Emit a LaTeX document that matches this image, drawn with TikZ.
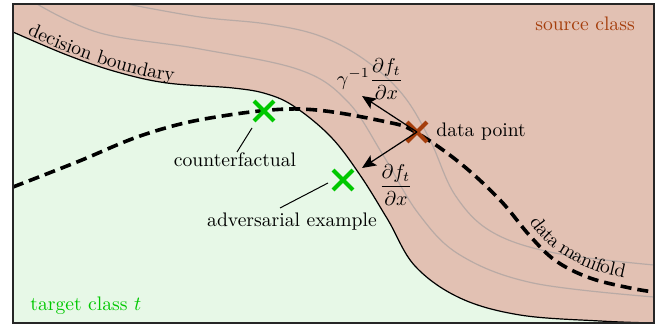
\documentclass[tikz,border=0pt]{standalone}
\usetikzlibrary{arrows.meta,decorations.text}
\definecolor{srcfill}{RGB}{226,193,179}
\definecolor{tgtfill}{RGB}{231,248,231}
\definecolor{srccol}{RGB}{165,62,12}
\definecolor{tgtcol}{RGB}{0,200,0}
\definecolor{grayline}{RGB}{185,170,165}
\newcommand{\lblfont}{\fontsize{9.8}{11.5}\selectfont}
\begin{document}
\begin{tikzpicture}[x=0.5pt,y=0.5pt,
  xmk/.style={inner sep=0pt, minimum size=9.5pt, draw=none},
  xline/.style={line width=2.1pt},
  arr/.style={line width=0.6pt, -{Stealth[length=7pt,width=6pt,inset=1.5pt]}},
  leader/.style={line width=0.5pt},
  graycurve/.style={grayline, line width=0.6pt},
  manifold/.style={line width=1.8pt, dash pattern=on 5.5pt off 3pt},
  lbl/.style={inner sep=0pt, font=\lblfont}]
\useasboundingbox (0,0) rectangle (662,-325);
% regions
\fill[tgtfill] (13,-4) rectangle (654,-323);
\fill[srcfill] plot[smooth, tension=0.6] coordinates {(13,-32) (67,-55) (117,-72) (167,-83) (233,-88) (267,-94) (295,-107) (331,-137) (360,-175) (388,-220) (415,-266) (460,-298) (520,-315) (600,-321) (654,-323)} -- (654,-4) -- (13,-4) -- cycle;
% gray level curves
\draw[graycurve] plot[smooth, tension=0.6] coordinates {(37,-4) (100,-33) (200,-49) (300,-70) (348,-102) (383,-155) (418,-213) (460,-255) (533,-283) (654,-297)};
\draw[graycurve] plot[smooth, tension=0.6] coordinates {(127,-4) (200,-17) (267,-24) (320,-36) (365,-60) (403,-95) (430,-140) (455,-195) (492,-232) (555,-253) (654,-265)};
% decision boundary
\draw[line width=0.6pt] plot[smooth, tension=0.6] coordinates {(13,-32) (67,-55) (117,-72) (167,-83) (233,-88) (267,-94) (295,-107) (331,-137) (360,-175) (388,-220) (415,-266) (460,-298) (520,-315) (600,-321) (654,-323)};
\path[decorate, decoration={text along path, text={|\lblfont|decision boundary}, raise=1.5pt, text align={left indent=7pt}}] plot[smooth, tension=0.6] coordinates {(13,-32) (67,-55) (117,-72) (167,-83) (233,-88) (267,-94)};
% data manifold
\draw[manifold] plot[smooth, tension=0.6] coordinates {(13,-187) (77,-162) (143,-135) (210,-118) (300,-109) (387,-122) (417,-133) (460,-163) (500,-200) (530,-236) (556,-261) (590,-278) (630,-288) (654,-292)};
\path[decorate, decoration={text along path, text={|\lblfont|data manifold}, raise=4.5pt}] (522,-228) .. controls (538,-250) and (556,-266) .. (595,-280) .. controls (620,-287) and (640,-290) .. (654,-292);
% marks
\node[xmk] (dp) at (417,-132) {};
\draw[xline, srccol] (dp.north west) -- (dp.south east) (dp.north east) -- (dp.south west);
\node[xmk] (cf) at (264,-111) {};
\draw[xline, tgtcol] (cf.north west) -- (cf.south east) (cf.north east) -- (cf.south west);
\node[xmk] (adv) at (343,-180) {};
\draw[xline, tgtcol] (adv.north west) -- (adv.south east) (adv.north east) -- (adv.south west);
% arrows
\coordinate (tipup) at (362,-96);
\coordinate (tipdown) at (362,-168);
\draw[arr] (dp.center) -- (tipup);
\draw[arr] (dp.center) -- (tipdown);
% labels
\node[lbl] (glab) at (370,-79) {$\displaystyle\gamma^{-1}\frac{\partial f_t}{\partial x}$};
\node[lbl] (dlab) at (396,-185) {$\displaystyle\frac{\partial f_t}{\partial x}$};
\node[lbl, anchor=base west] (dplab) at (436,-137) {data point};
\node[lbl, anchor=base] (cflab) at (235,-167) {counterfactual};
\node[lbl, anchor=base] (advlab) at (292,-227) {adversarial example};
\node[lbl, anchor=base, text=srccol] (srclab) at (585,-31) {source class};
\node[lbl, anchor=base west, text=tgtcol] (tgtlab) at (30,-310) {target class $t$};
% leader lines
\coordinate (cfa) at (252,-128);
\coordinate (cfb) at (237,-152);
\draw[leader] (cfa) -- (cfb);
\coordinate (adva) at (328,-183);
\coordinate (advb) at (280,-208);
\draw[leader] (adva) -- (advb);
% frame
\draw[black!85, line width=0.8pt] (13,-4) rectangle (654,-323);
\end{tikzpicture}
\end{document}
